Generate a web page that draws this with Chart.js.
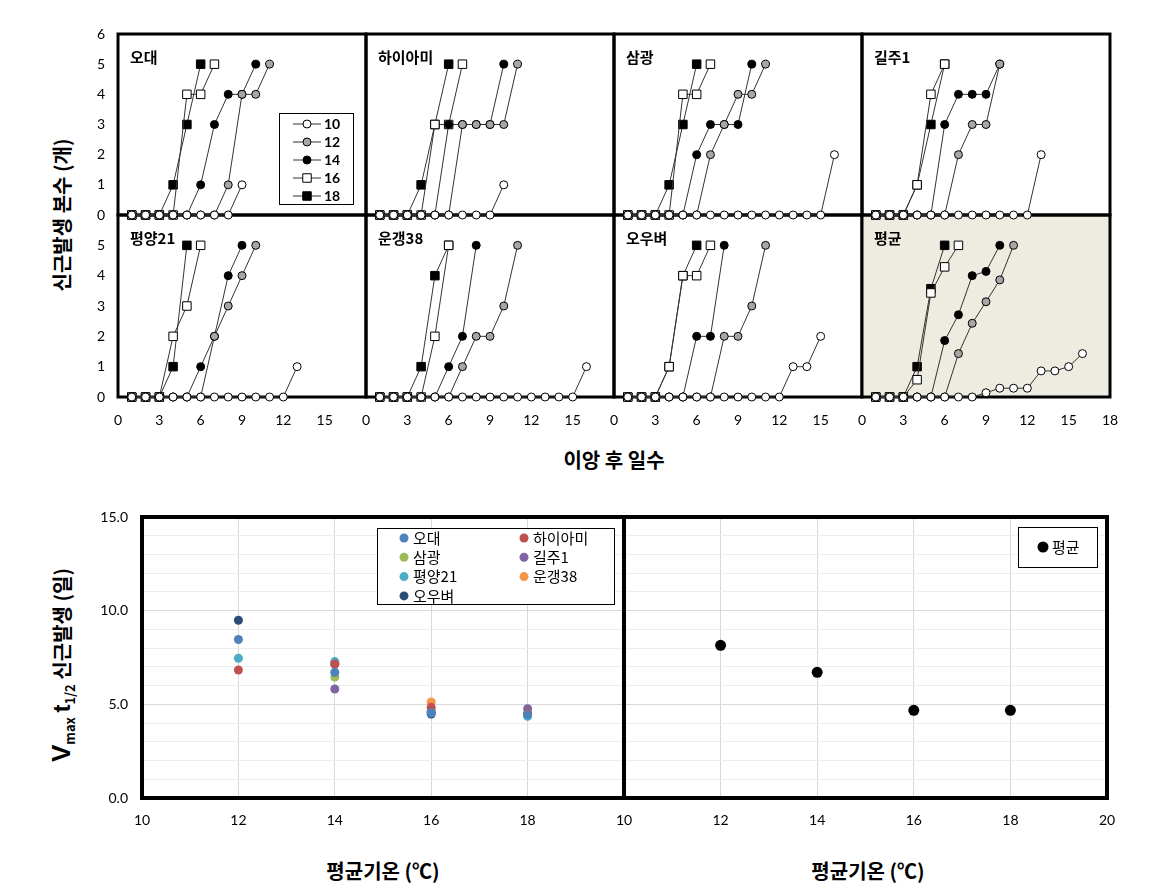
<!DOCTYPE html>
<html>
<head>
<meta charset="utf-8">
<script src="https://cdn.jsdelivr.net/npm/chart.js@4.4.0/dist/chart.umd.min.js"></script>
<style>
  body { margin: 0; background: #fff; }
  #wrap { position: relative; width: 1163px; height: 889px; overflow: hidden; font-family: "Noto Sans CJK KR", sans-serif; }
  #wrap canvas { position: absolute; }
  .title { position: absolute; font-weight: bold; font-size: 20px; color: #000; white-space: nowrap; line-height: 1; }
  .sub { font-size: 13px; vertical-align: -5px; }
</style>
</head>
<body>
<div id="wrap">
  <div class="title" style="left:614px;top:460px;transform:translate(-50%,-50%);">이앙 후 일수</div>
  <div class="title" style="left:62px;top:215px;transform:translate(-50%,-50%) rotate(-90deg);">신근발생 본수 (개)</div>
  <div class="title" style="left:62px;top:665px;transform:translate(-50%,-50%) rotate(-90deg);"><span style="font-size:26px;font-family:'Liberation Sans'">V</span><span class="sub">max</span>&nbsp;<span style="font-size:24px;font-family:'Liberation Sans'">t</span><span class="sub">1/2</span> 신근발생 (일)</div>
  <div class="title" style="left:383px;top:871px;transform:translate(-50%,-50%);">평균기온 (℃)</div>
  <div class="title" style="left:868px;top:871px;transform:translate(-50%,-50%);">평균기온 (℃)</div>
</div>
<script>
// days after transplanting (index 0 = day 1)
const days = [1, 2, 3, 4, 5, 6, 7, 8, 9, 10, 11, 12, 13, 14, 15, 16];
const tempLabels = ['10', '12', '14', '16', '18'];
const panelNames = ['오대', '하이아미', '삼광', '길주1', '평양21', '운갱38', '오우벼', '평균'];

// number of new roots per day, rows: 10, 12, 14, 16, 18 ℃
const odae = [
  [0, 0, 0, 0, 0, 0, 0, 0, 1],
  [0, 0, 0, 0, 0, 0, 0, 1, 4, 4, 5],
  [0, 0, 0, 0, 0, 1, 3, 4, 4, 5],
  [0, 0, 0, 0, 4, 4, 5],
  [0, 0, 0, 1, 3, 5]
];
const haiami = [
  [0, 0, 0, 0, 0, 0, 0, 0, 0, 1],
  [0, 0, 0, 0, 0, 0, 3, 3, 3, 3, 5],
  [0, 0, 0, 0, 0, 3, 3, 3, 3, 5],
  [0, 0, 0, 0, 3, 3, 5],
  [0, 0, 0, 1, 3, 5]
];
const samgwang = [
  [0, 0, 0, 0, 0, 0, 0, 0, 0, 0, 0, 0, 0, 0, 0, 2],
  [0, 0, 0, 0, 0, 0, 2, 3, 4, 4, 5],
  [0, 0, 0, 0, 0, 2, 3, 3, 3, 5],
  [0, 0, 0, 0, 4, 4, 5],
  [0, 0, 0, 1, 3, 5]
];
const gilju = [
  [0, 0, 0, 0, 0, 0, 0, 0, 0, 0, 0, 0, 2],
  [0, 0, 0, 0, 0, 0, 2, 3, 3, 5],
  [0, 0, 0, 0, 0, 3, 4, 4, 4, 5],
  [0, 0, 0, 1, 4, 5],
  [0, 0, 0, 1, 3, 5]
];
const pyeongyang = [
  [0, 0, 0, 0, 0, 0, 0, 0, 0, 0, 0, 0, 1],
  [0, 0, 0, 0, 0, 0, 2, 3, 4, 5],
  [0, 0, 0, 0, 0, 1, 2, 4, 5],
  [0, 0, 0, 2, 3, 5],
  [0, 0, 0, 1, 5]
];
const ungaeng = [
  [0, 0, 0, 0, 0, 0, 0, 0, 0, 0, 0, 0, 0, 0, 0, 1],
  [0, 0, 0, 0, 0, 0, 1, 2, 2, 3, 5],
  [0, 0, 0, 0, 0, 1, 2, 5],
  [0, 0, 0, 0, 2, 5],
  [0, 0, 0, 1, 4, 5]
];
const oubyeo = [
  [0, 0, 0, 0, 0, 0, 0, 0, 0, 0, 0, 0, 1, 1, 2],
  [0, 0, 0, 0, 0, 0, 0, 2, 2, 3, 5],
  [0, 0, 0, 0, 0, 2, 2, 5],
  [0, 0, 0, 1, 4, 4, 5],
  [0, 0, 0, 1, 4, 5]
];
const average = [
  [0, 0, 0, 0, 0, 0, 0, 0, 0.14, 0.29, 0.29, 0.29, 0.86, 0.86, 1.0, 1.43],
  [0, 0, 0, 0, 0, 0, 1.43, 2.43, 3.14, 3.86, 5],
  [0, 0, 0, 0, 0, 1.86, 2.71, 4.0, 4.14, 5],
  [0, 0, 0, 0.57, 3.43, 4.29, 5],
  [0, 0, 0, 1, 3.57, 5]
];
const panelSeries = [odae, haiami, samgwang, gilju, pyeongyang, ungaeng, oubyeo, average];

// Vmax t1/2 (days) by mean temperature
const meanTemps = [12, 14, 16, 18];
const halfOdae = [8.46, 6.71, 4.55, 4.45];
const halfHaiami = [6.83, 7.15, 4.84, 4.5];
const halfSamgwang = [null, 6.46, 4.66, 4.5];
const halfGilju = [null, 5.82, 4.6, 4.77];
const halfPyeongyang = [7.46, 7.28, 4.55, 4.36];
const halfUngaeng = [null, 7.15, 5.13, 4.5];
const halfOubyeo = [9.49, 7.15, 4.48, 4.48];
const halfMean = [8.15, 6.71, 4.68, 4.68];
const halfSeries = [halfOdae, halfHaiami, halfSamgwang, halfGilju, halfPyeongyang, halfUngaeng, halfOubyeo];

const tempStyles = [
  { pointStyle: 'circle', bg: '#ffffff', r: 4 },
  { pointStyle: 'circle', bg: '#a6a6a6', r: 4 },
  { pointStyle: 'circle', bg: '#000000', r: 4 },
  { pointStyle: 'rect', bg: '#ffffff', r: 6 },
  { pointStyle: 'rect', bg: '#000000', r: 6 }
];
const scatterColors = ['#4F81BD', '#C0504D', '#9BBB59', '#8064A2', '#4BACC6', '#F79646', '#2C4D75'];

const tickFont = { family: 'Lato, "Noto Sans CJK KR", sans-serif', size: 14 };

function drawMarker(ctx, style, r, x, y, bg, bw, bc) {
  ctx.beginPath();
  if (style === 'rect') {
    const s = r * Math.SQRT1_2;
    ctx.rect(x - s, y - s, 2 * s, 2 * s);
  } else {
    ctx.arc(x, y, r, 0, Math.PI * 2);
  }
  ctx.fillStyle = bg;
  ctx.fill();
  if (bw) {
    ctx.lineWidth = bw;
    ctx.strokeStyle = bc;
    ctx.stroke();
  }
}

// background, thick frame and panel name
const framePlugin = {
  id: 'frame',
  beforeDraw(chart, args, opts) {
    if (!opts.fill) return;
    const { ctx, chartArea: a } = chart;
    ctx.save();
    ctx.fillStyle = opts.fill;
    ctx.fillRect(a.left, a.top, a.width, a.height);
    ctx.restore();
  },
  beforeDatasetsDraw(chart, args, opts) {
    const { ctx, chartArea: a } = chart;
    ctx.save();
    ctx.lineWidth = opts.width;
    ctx.strokeStyle = '#000';
    ctx.strokeRect(a.left, a.top, a.width, a.height);
    if (opts.label) {
      ctx.fillStyle = '#000';
      ctx.font = 'bold 15px "Noto Sans CJK KR", sans-serif';
      ctx.textBaseline = 'middle';
      ctx.fillText(opts.label, a.left + 12, a.top + 23);
    }
    ctx.restore();
  }
};

// legend in a box inside the plot area
const boxLegend = {
  id: 'boxLegend',
  afterDatasetsDraw(chart, args, opts) {
    const { ctx, chartArea: a } = chart;
    const x0 = a.left + opts.x;
    const y0 = a.top + opts.y;
    ctx.save();
    ctx.fillStyle = '#fff';
    ctx.fillRect(x0, y0, opts.w, opts.h);
    ctx.lineWidth = 1;
    ctx.strokeStyle = '#000';
    ctx.strokeRect(x0 + 0.5, y0 + 0.5, opts.w, opts.h);
    ctx.textBaseline = 'middle';
    chart.data.datasets.forEach((ds, i) => {
      const col = i % opts.cols;
      const row = Math.floor(i / opts.cols);
      const cx = x0 + opts.markerX + col * opts.colW;
      const cy = y0 + opts.rowY + row * opts.rowH;
      if (opts.lineHalf) {
        ctx.beginPath();
        ctx.lineWidth = 1;
        ctx.strokeStyle = ds.borderColor;
        ctx.moveTo(cx - opts.lineHalf, cy);
        ctx.lineTo(cx + opts.lineHalf, cy);
        ctx.stroke();
      }
      drawMarker(ctx, ds.pointStyle, ds.pointRadius, cx, cy,
        ds.pointBackgroundColor, ds.pointBorderWidth, ds.pointBorderColor);
      ctx.fillStyle = '#000';
      ctx.font = opts.fontCss;
      ctx.fillText(ds.label, cx + opts.textX, cy);
    });
    ctx.restore();
  }
};

function addCanvas(left, top, w, h, z) {
  const c = document.createElement('canvas');
  c.width = w;
  c.height = h;
  c.style.left = left + 'px';
  c.style.top = top + 'px';
  c.style.width = w + 'px';
  c.style.height = h + 'px';
  c.style.zIndex = z;
  document.getElementById('wrap').appendChild(c);
  return c;
}

// top: 8 panels of root counts
const colLeft = [118, 366, 614, 862];
const rowTop = [34, 215];
const rowHeight = [181, 182];
const panelW = 248;
// roomy paddings so tick labels never push the plot area around
const pad = { l: 40, r: 30, t: 30, b: 40 };

panelSeries.forEach((series, p) => {
  const col = p % 4;
  const row = Math.floor(p / 4);
  const canvas = addCanvas(colLeft[col] - pad.l, rowTop[row] - pad.t,
    panelW + pad.l + pad.r, rowHeight[row] + pad.t + pad.b, row === 0 ? 2 : 1);

  const datasets = series.map((vals, i) => ({
    label: tempLabels[i],
    data: vals.map((v, k) => ({ x: days[k], y: v })),
    borderColor: '#333',
    borderWidth: 1,
    pointStyle: tempStyles[i].pointStyle,
    pointRadius: tempStyles[i].r,
    pointBackgroundColor: tempStyles[i].bg,
    pointBorderColor: '#000',
    pointBorderWidth: 1,
    tension: 0,
    fill: false,
    clip: false
  }));

  const plugins = [framePlugin];
  if (p === 0) plugins.push(boxLegend);

  new Chart(canvas, {
    type: 'line',
    data: { datasets },
    plugins,
    options: {
      responsive: false,
      animation: false,
      devicePixelRatio: 1,
      events: [],
      layout: { autoPadding: false, padding: { left: 0, top: pad.t, right: pad.r, bottom: 0 } },
      scales: {
        x: {
          type: 'linear', min: 0, max: 18,
          grid: { display: false, drawTicks: false },
          border: { display: false },
          ticks: {
            display: row === 1, stepSize: 3, padding: 15, font: tickFont, color: '#000',
            callback: v => (v === 18 && col < 3 ? '' : v)
          },
          afterFit: s => { s.height = pad.b; }
        },
        y: {
          min: 0, max: 6,
          grid: { display: false, drawTicks: false },
          border: { display: false },
          ticks: {
            display: col === 0, stepSize: 1, padding: 13, font: tickFont, color: '#000',
            callback: v => (v === 6 && row === 1 ? '' : v)
          },
          afterFit: s => { s.width = pad.l; }
        }
      },
      plugins: {
        legend: { display: false },
        tooltip: { enabled: false },
        frame: { width: 3, label: panelNames[p], fill: p === 7 ? '#EEECE1' : null },
        boxLegend: { x: 161, y: 79, w: 74, h: 91, cols: 1, colW: 0, markerX: 28, rowY: 11, rowH: 18,
          lineHalf: 14, textX: 17, fontCss: 'bold 14px Lato, sans-serif' }
      }
    }
  });
});

// bottom: Vmax t1/2 scatter panels
const sPad = { l: 60, r: 30, t: 30, b: 40 };

function scatterPanel(left, width, datasets, showY, hideLast, legendOpts) {
  const canvas = addCanvas(left - sPad.l, 517 - sPad.t, width + sPad.l + sPad.r, 281 + sPad.t + sPad.b, 1);
  new Chart(canvas, {
    type: 'scatter',
    data: { datasets },
    plugins: [framePlugin, boxLegend],
    options: {
      responsive: false,
      animation: false,
      devicePixelRatio: 1,
      events: [],
      layout: { autoPadding: false, padding: { left: 0, top: sPad.t, right: sPad.r, bottom: 0 } },
      scales: {
        x: {
          type: 'linear', min: 10, max: 20,
          grid: { color: '#D9D9D9', drawTicks: false },
          border: { display: false },
          ticks: {
            stepSize: 2, padding: 14, font: tickFont, color: '#000',
            callback: v => (v === 20 && hideLast ? '' : v)
          },
          afterFit: s => { s.height = sPad.b; }
        },
        y: {
          min: 0, max: 15,
          grid: { color: c => (c.tick && c.tick.value % 5 === 0 ? '#D9D9D9' : '#EDEDED'), drawTicks: false },
          border: { display: false },
          ticks: {
            display: showY, stepSize: 1, autoSkip: false, padding: 14, font: tickFont, color: '#000',
            callback: v => (v % 5 === 0 ? v.toFixed(1) : '')
          },
          afterFit: s => { s.width = sPad.l; }
        }
      },
      plugins: {
        legend: { display: false },
        tooltip: { enabled: false },
        frame: { width: 4, label: '', fill: null },
        boxLegend: legendOpts
      }
    }
  });
}

const cultivarSets = halfSeries.map((vals, i) => ({
  label: panelNames[i],
  data: meanTemps.map((t, k) => ({ x: t, y: vals[k] })),
  pointStyle: 'circle',
  pointRadius: 4.5,
  pointBackgroundColor: scatterColors[i],
  pointBorderColor: scatterColors[i],
  pointBorderWidth: 0,
  clip: false
}));
scatterPanel(142, 482, cultivarSets, true, true,
  { x: 235, y: 11, w: 237, h: 76, cols: 2, colW: 120, markerX: 27, rowY: 10, rowH: 19.3,
    lineHalf: 0, textX: 9, fontCss: '15px "Noto Sans CJK KR", sans-serif' });

const meanSet = [{
  label: '평균',
  data: meanTemps.map((t, k) => ({ x: t, y: halfMean[k] })),
  pointStyle: 'circle',
  pointRadius: 5.5,
  pointBackgroundColor: '#000',
  pointBorderColor: '#000',
  pointBorderWidth: 0,
  clip: false
}];
scatterPanel(624, 483, meanSet, false, false,
  { x: 394, y: 10, w: 79, h: 40, cols: 1, colW: 0, markerX: 25, rowY: 20, rowH: 20,
    lineHalf: 0, textX: 9, fontCss: '15px "Noto Sans CJK KR", sans-serif' });
</script>
</body>
</html>
